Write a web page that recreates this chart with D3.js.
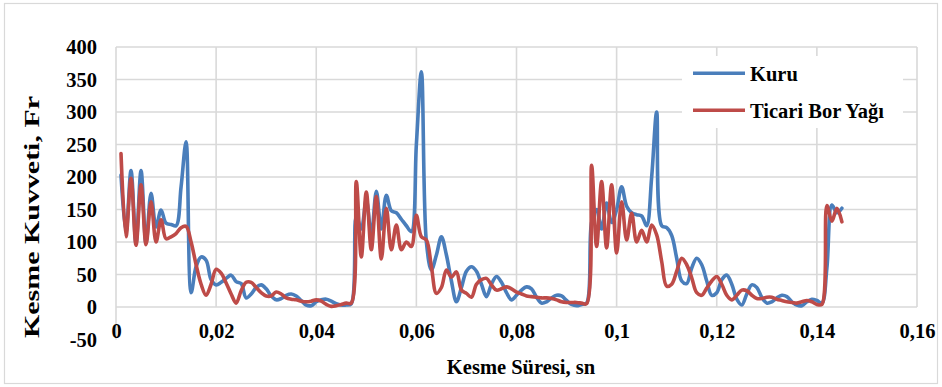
<!DOCTYPE html>
<html>
<head>
<meta charset="utf-8">
<script src="https://cdn.jsdelivr.net/npm/d3@7"></script>
<style>
  body { margin: 0; background: #fff; }
  svg text { font-family: "Liberation Serif", "Times New Roman", serif; font-weight: bold; fill: #000; }
</style>
</head>
<body>
<svg id="chart" width="942" height="387"></svg>
<script>
// kesme süresi (s)
const time = [
  0.001, 0.002, 0.003, 0.004, 0.005, 0.006, 0.007, 0.008, 0.009, 0.010,
  0.011, 0.012, 0.013, 0.014, 0.015, 0.016, 0.017, 0.018, 0.019, 0.020,
  0.021, 0.022, 0.023, 0.024, 0.025, 0.026, 0.027, 0.028, 0.029, 0.030,
  0.031, 0.032, 0.033, 0.034, 0.035, 0.036, 0.037, 0.038, 0.039, 0.040,
  0.041, 0.042, 0.043, 0.044, 0.045, 0.046, 0.047, 0.048, 0.049, 0.050,
  0.051, 0.052, 0.053, 0.054, 0.055, 0.056, 0.057, 0.058, 0.059, 0.060,
  0.061, 0.062, 0.063, 0.064, 0.065, 0.066, 0.067, 0.068, 0.069, 0.070,
  0.071, 0.072, 0.073, 0.074, 0.075, 0.076, 0.077, 0.078, 0.079, 0.080,
  0.081, 0.082, 0.083, 0.084, 0.085, 0.086, 0.087, 0.088, 0.089, 0.090,
  0.091, 0.092, 0.093, 0.094, 0.095, 0.096, 0.097, 0.098, 0.099, 0.100,
  0.101, 0.102, 0.103, 0.104, 0.105, 0.106, 0.107, 0.108, 0.109, 0.110,
  0.111, 0.112, 0.113, 0.114, 0.115, 0.116, 0.117, 0.118, 0.119, 0.120,
  0.121, 0.122, 0.123, 0.124, 0.125, 0.126, 0.127, 0.128, 0.129, 0.130,
  0.131, 0.132, 0.133, 0.134, 0.135, 0.136, 0.137, 0.138, 0.139, 0.140,
  0.141, 0.142, 0.143, 0.144, 0.145
];

const kuru = [
  203, 115, 210, 98, 210, 98, 175, 123, 149, 129,
  127, 125, 185, 254, 22, 62, 77, 72, 42, 34,
  38, 44, 49, 39, 36, 14, 20, 30, 34, 28,
  17, 11, 13, 18, 20, 17, 10, 3, 2, 8,
  11, 12, 9, 5, 3, 3, 5, 140, 120, 165,
  110, 178, 120, 172, 148, 145, 135, 125, 116, 250,
  362, 100, 57, 80, 108, 80, 40, 8, 30, 55,
  62, 55, 35, 16, 35, 47, 38, 22, 11, 18,
  26, 31, 28, 15, 6, 8, 14, 18, 17, 10,
  4, 2, 4, 6, 130, 150, 120, 160, 130, 150,
  185, 155, 145, 142, 140, 125, 200, 300, 125, 122,
  110, 75, 40, 36, 60, 75, 65, 40, 18, 22,
  42, 49, 35, 12, 3, 20, 34, 30, 15, 6,
  8, 14, 18, 16, 8, 3, 2, 8, 12, 10,
  6, 60, 157, 145, 152
];

const ticari = [
  236, 108, 198, 95, 188, 96, 162, 100, 134, 105,
  108, 113, 122, 124, 100, 65, 35, 18, 35, 58,
  52, 37, 20, 6, 25, 38, 38, 30, 22, 17,
  17, 23, 20, 14, 12, 11, 9, 8, 9, 11,
  9, 4, 1, 2, 4, 6, 6, 193, 77, 177,
  88, 170, 74, 152, 88, 126, 88, 100, 93, 141,
  108, 103, 62, 21, 30, 57, 46, 54, 26, 21,
  15, 35, 42, 44, 34, 26, 28, 31, 28, 23,
  20, 17, 16, 15, 14, 14, 13, 11, 8, 7,
  7, 7, 6, 5, 218, 93, 193, 91, 188, 83,
  162, 103, 144, 100, 118, 100, 126, 111, 70, 32,
  35, 55, 75, 65, 45, 22, 18, 29, 40, 47,
  35, 18, 11, 18, 26, 25, 18, 13, 13, 15,
  15, 12, 10, 8, 7, 6, 8, 10, 8, 4,
  4, 156, 132, 152, 131
];

const seriesNames = ["Kuru", "Ticari Bor Yağı"];
const yTicks = [-50, 0, 50, 100, 150, 200, 250, 300, 350, 400];
const xTicks = [0, 0.02, 0.04, 0.06, 0.08, 0.1, 0.12, 0.14, 0.16];
const xTickLabels = ["0", "0,02", "0,04", "0,06", "0,08", "0,1", "0,12", "0,14", "0,16"];

const colors = ["#4A7EBB", "#BE4B48"];
const svg = d3.select("#chart");

// outer frame
svg.append("rect")
  .attr("x", 4.5).attr("y", 3.5)
  .attr("width", 933).attr("height", 380)
  .attr("fill", "#fff")
  .attr("stroke", "#D9D9D9").attr("stroke-width", 1.2);

const x = d3.scaleLinear().domain([0, 0.16]).range([116, 917]);
const y = d3.scaleLinear().domain([-50, 400]).range([339.5, 47]);

// gridlines
svg.append("g")
  .selectAll("line")
  .data(yTicks.filter(d => d >= 0))
  .enter().append("line")
  .attr("x1", x(0)).attr("x2", x(0.16))
  .attr("y1", d => y(d)).attr("y2", d => y(d))
  .attr("stroke", "#D9D9D9").attr("stroke-width", 1.6);

svg.append("g")
  .selectAll("line")
  .data(xTicks.slice(1))
  .enter().append("line")
  .attr("x1", d => x(d)).attr("x2", d => x(d))
  .attr("y1", y(400)).attr("y2", y(0))
  .attr("stroke", "#D9D9D9").attr("stroke-width", 1.6);

// y axis line
svg.append("line")
  .attr("x1", x(0)).attr("x2", x(0))
  .attr("y1", y(400)).attr("y2", y(-50))
  .attr("stroke", "#D9D9D9").attr("stroke-width", 1.6);

// y axis labels
const yAxis = d3.axisLeft(y).tickValues(yTicks).tickSize(0).tickPadding(19)
  .tickFormat(d => String(d));
svg.append("g")
  .attr("transform", "translate(" + x(0) + ",0)")
  .call(yAxis)
  .call(g => g.select(".domain").remove())
  .selectAll("text")
  .attr("font-family", null)
  .style("font-size", "20.5px");

// x axis labels (axis crosses at 0)
const xAxis = d3.axisBottom(x).tickValues(xTicks).tickSize(0).tickPadding(16.5)
  .tickFormat((d, i) => xTickLabels[i]);
svg.append("g")
  .attr("transform", "translate(0," + y(0) + ")")
  .call(xAxis)
  .call(g => g.select(".domain").remove())
  .selectAll("text")
  .attr("font-family", null)
  .style("font-size", "20.5px");

// series
const line = d3.line()
  .x(d => x(d[0]))
  .y(d => y(d[1]))
  .curve(d3.curveCatmullRom.alpha(0.5));

[kuru, ticari].forEach((vals, i) => {
  svg.append("path")
    .datum(time.map((t, j) => [t, vals[j]]))
    .attr("fill", "none")
    .attr("stroke", colors[i])
    .attr("stroke-width", 3.6)
    .attr("stroke-linejoin", "round")
    .attr("stroke-linecap", "round")
    .attr("d", line);
});

// legend
const legend = svg.append("g");
legend.append("rect")
  .attr("x", 682).attr("y", 56)
  .attr("width", 221).attr("height", 72)
  .attr("fill", "#fff");

seriesNames.forEach((name, i) => {
  const ly = 73.3 + i * 37;
  legend.append("line")
    .attr("x1", 693).attr("x2", 745)
    .attr("y1", ly).attr("y2", ly)
    .attr("stroke", colors[i]).attr("stroke-width", 3.6);
  legend.append("text")
    .attr("x", 750).attr("y", ly + 8)
    .style("font-size", "20.5px")
    .text(name);
});

// axis titles
svg.append("text")
  .attr("x", 521).attr("y", 374)
  .attr("text-anchor", "middle")
  .style("font-size", "20.5px")
  .text("Kesme Süresi, sn");

svg.append("text")
  .attr("transform", "translate(39,217) rotate(-90)")
  .attr("text-anchor", "middle")
  .attr("textLength", 242)
  .attr("lengthAdjust", "spacingAndGlyphs")
  .style("font-size", "20.5px")
  .text("Kesme Kuvveti, Fr");
</script>
</body>
</html>
